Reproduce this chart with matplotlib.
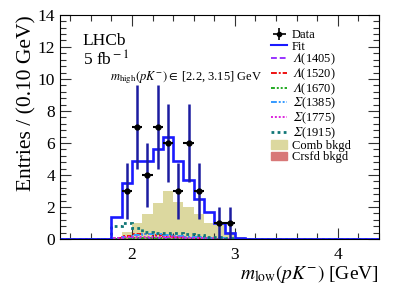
import numpy as np
import matplotlib
matplotlib.use('Agg')
import matplotlib.pyplot as plt
from matplotlib.lines import Line2D
from matplotlib.patches import Patch

plt.rcParams['font.family'] = ['Liberation Serif', 'DejaVu Serif']
plt.rcParams['mathtext.fontset'] = 'stix'

# bins of 0.10 GeV over the plotted range
edges = np.round(np.arange(1.3, 4.4001, 0.1), 2)
first_bin = 1.8  # components are non-zero from here on

# data points (bin centre, entries)
data_x = [1.95, 2.05, 2.15, 2.25, 2.35, 2.45, 2.55, 2.65, 2.85, 2.95]
data_y = [3, 7, 4, 7, 6, 3, 6, 3, 1, 1]

# fit and components, bins from 1.8 to 3.1
fit = [1.4, 3.5, 4.9, 4.9, 5.6, 6.4, 4.9, 3.7, 2.5, 1.7, 1.0, 0.4, 0.05]
comb = [0.0, 0.35, 0.85, 1.4, 2.1, 2.85, 2.2, 1.9, 1.5, 0.95, 0.85, 0.4, 0.1]
crsfd = [0.0, 0.1, 0.15, 0.15, 0.15, 0.15, 0.12, 0.1, 0.08, 0.05, 0.03, 0.02, 0.0]
sig1915 = [0.8, 1.0, 0.7, 0.45, 0.4, 0.4, 0.35, 0.3, 0.25, 0.15, 0.1, 0.05, 0.02]
lam1520 = [0.05, 0.2, 0.3, 0.3, 0.25, 0.2, 0.15, 0.12, 0.08, 0.05, 0.03, 0.02, 0.0]
sig1385 = [0.05, 0.15, 0.25, 0.3, 0.3, 0.25, 0.2, 0.15, 0.1, 0.06, 0.04, 0.02, 0.0]
sig1775 = [0.05, 0.1, 0.12, 0.12, 0.12, 0.1, 0.1, 0.08, 0.06, 0.04, 0.02, 0.01, 0.0]
lam1405 = [0.03, 0.06, 0.08, 0.08, 0.07, 0.06, 0.05, 0.04, 0.03, 0.02, 0.01, 0.0, 0.0]
lam1670 = [0.02, 0.03, 0.04, 0.04, 0.04, 0.03, 0.03, 0.02, 0.02, 0.01, 0.01, 0.0, 0.0]

# italic capital Greek (mathematical italic code points)
LAM = '$\U0001D6EC$'
SIG = '$\U0001D6F4$'


def full(vals):
    # pad a component to the whole bin range with zeros
    out = np.zeros(len(edges) - 1)
    i0 = int(round((first_bin - edges[0]) / 0.1))
    out[i0:i0 + len(vals)] = vals
    return out


fig = plt.figure(figsize=(3.99, 2.86), dpi=100)
ax = fig.add_axes([0.150, 0.164, 0.800, 0.784])

comb_col = '#dcd89f'
crsfd_col = '#d87878'
ax.stairs(full(comb) + full(crsfd), edges, fill=True, color=comb_col, zorder=1)
ax.stairs(full(crsfd), edges, fill=True, color=crsfd_col, zorder=1.1)

components = [
    (LAM + '(1405)', lam1405, '#9933ff', (0, (3, 1.5)), 1.4),
    (LAM + '(1520)', lam1520, '#ee1111', (0, (3, 1, 1, 1)), 1.4),
    (LAM + '(1670)', lam1670, '#22aa22', (0, (2, 1, 1, 1, 1, 1)), 1.4),
    (SIG + '(1385)', sig1385, '#3399ff', (0, (3, 1, 1, 1, 1, 1)), 1.4),
    (SIG + '(1775)', sig1775, '#dd22dd', (0, (1, 1)), 1.4),
    (SIG + '(1915)', sig1915, '#117777', (0, (1, 1.2)), 2.0),
]
comp_handles = []
for label, vals, col, ls, lw in components:
    ax.stairs(full(vals), edges, color=col, linestyle=ls, linewidth=lw, zorder=2)
    comp_handles.append(Line2D([], [], color=col, linestyle=ls, linewidth=lw, label=label))

fit_col = '#1a1aff'
ax.stairs(full(fit), edges, color=fit_col, linewidth=1.9, zorder=3)

err = np.sqrt(data_y)
ax.errorbar(data_x, data_y, yerr=err, fmt='none', ecolor='#1c1ca0', elinewidth=1.8, zorder=4)
ax.errorbar(data_x, data_y, xerr=0.05, fmt='o', color='k', ms=3.5, elinewidth=1.5, zorder=5)

data_handle = ax.errorbar([np.nan], [np.nan], xerr=[1], yerr=[1], fmt='o', color='k',
                          ms=3, elinewidth=1.2)
handles = [data_handle, Line2D([], [], color=fit_col, linewidth=1.5)] + comp_handles + [
    Patch(color=comb_col), Patch(color=crsfd_col)]
labels = ['Data', 'Fit'] + [c[0] for c in components] + ['Comb bkgd', 'Crsfd bkgd']
ax.legend(handles, labels, loc='upper left', bbox_to_anchor=(0.662, 0.935), frameon=False,
          fontsize=9, handlelength=1.3, handletextpad=0.35, labelspacing=-0.06,
          borderpad=0.0, borderaxespad=0.0)

ax.set_xlim(1.3, 4.4)
ax.set_ylim(0, 14)
ax.set_xticks([2, 3, 4])
ax.set_xticks(np.arange(1.4, 4.4, 0.2), minor=True)
ax.set_yticks(np.arange(0, 15, 2))
ax.set_yticks(np.arange(0, 14.01, 0.4), minor=True)
ax.tick_params(which='both', direction='in', top=True, right=True, labelsize=12.5,
               width=0.8, color='#333333')
ax.tick_params(which='major', length=8)
ax.tick_params(which='minor', length=4)
ax.tick_params(axis='x', pad=6)

ax.set_xlabel('$m_{\\rm low}(pK^{-})$ [GeV]', fontsize=14, loc='right', labelpad=0)
ax.set_ylabel('Entries / (0.10 GeV)', fontsize=15.5, loc='top', labelpad=1)

ax.text(0.072, 0.866, 'LHCb', transform=ax.transAxes, fontsize=12.5, va='baseline')
ax.text(0.072, 0.772, '5 fb$^{\\rm -1}$', transform=ax.transAxes, fontsize=12.5, va='baseline')
ax.text(1.79, 9.9, '$m_{\\rm high}(pK^{-}) \\in$ [2.2, 3.15] GeV', fontsize=9, va='baseline')

fig.savefig('out.png', dpi=100)
